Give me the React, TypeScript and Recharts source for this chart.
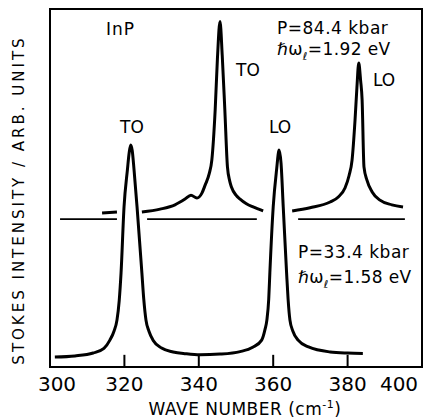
import {
  LineChart,
  Line,
  XAxis,
  YAxis,
  ReferenceLine,
  ReferenceArea,
} from "recharts";

// lower spectrum: P = 33.4 kbar, 1.58 eV
const lowerX = [
  301.3, 306.7, 311.6, 314.5, 316.1, 317.2, 318.0, 318.6, 319.1, 319.9, 320.8,
  321.3, 321.7, 322.1, 322.6, 323.4, 324.7, 325.2, 325.8, 326.6, 327.7, 330.0,
  333.1, 336.5, 340.3, 345.7, 351.1, 354.5, 356.9, 357.8, 358.3, 358.8, 359.1,
  360.0, 360.9, 361.6, 362.1, 362.7, 363.6, 364.0, 364.5, 365.3, 366.7, 369.5,
  375.3, 380.0, 384.1,
];
const lowerY = [
  2.8, 3.1, 3.9, 5.2, 7.5, 10.0, 13.1, 18.5, 26.3, 44.7, 55.0, 60.0, 62.0, 60.5,
  55.0, 44.7, 26.3, 19.0, 13.1, 10.0, 7.5, 5.3, 4.2, 3.7, 3.4, 3.6, 4.3, 5.5,
  7.5, 10.5, 13.1, 19.0, 26.3, 44.7, 55.0, 60.6, 57.0, 44.7, 26.3, 19.0, 13.1,
  10.0, 7.5, 5.6, 4.2, 3.9, 3.8,
];

// upper spectrum: P = 84.4 kbar, 1.92 eV (broken where the lower peaks cross)
const upperAX = [314.0, 318.0];
const upperAY = [43.0, 43.3];
const upperBX = [
  324.7, 329.6, 333.6, 336.3, 337.9, 339.5, 340.8, 341.7, 342.8, 343.5, 344.4,
  345.0, 345.7, 346.3, 347.0, 347.7, 348.3, 348.8, 350.0, 351.1, 352.8, 354.6,
  357.3,
];
const upperBY = [
  43.3, 44.1, 45.3, 46.9, 48.0, 47.2, 48.5, 50.8, 54.0, 57.8, 71.8, 86.0, 96.5,
  87.0, 71.8, 55.9, 52.0, 50.2, 48.0, 46.9, 45.6, 44.7, 43.6,
];
const upperCX = [
  365.1, 369.9, 375.3, 377.5, 379.3, 380.4, 381.2, 382.0, 382.5, 383.0, 383.5,
  383.9, 384.4, 385.2, 386.6, 388.7, 391.9, 394.9,
];
const upperCY = [
  43.6, 44.5, 46.1, 47.5, 50.0, 53.5, 57.8, 69.0, 78.0, 84.9, 80.0, 74.6, 55.9,
  52.2, 48.9, 46.6, 45.3, 44.7,
];

// zero line of the upper spectrum
const zeroLevel = 41.3;
const zeroSegments = [
  [302.7, 318.0],
  [326.1, 355.6],
  [366.7, 395.4],
];

const xTicks = [300, 320, 340, 360, 380, 400];
const innerTicks = [320, 340, 360, 380];

const toPoints = (xs: number[], ys: number[]) =>
  xs.map((x, i) => ({ x, y: ys[i] }));

const FONT = "DejaVu Sans, sans-serif";

const tickShift: Record<number, number> = { 300: 7, 400: -15 };

function XTick(props: any) {
  const { x, y, payload } = props;
  const v = payload.value as number;
  return (
    <text
      x={x + (tickShift[v] || 0)}
      y={y + 16}
      textAnchor="middle"
      fontFamily={FONT}
      fontSize={20}
      fill="#000"
    >
      {v}
    </text>
  );
}

function Omega({ x, y, rest }: { x: number; y: number; rest: string }) {
  return (
    <text
      x={x}
      y={y}
      fontFamily={FONT}
      fontSize={17}
      letterSpacing={0.4}
      fill="#000"
    >
      ℏω
      <tspan fontSize={11} dy={5}>
        ℓ
      </tspan>
      <tspan dy={-5}>{rest}</tspan>
    </text>
  );
}

export default function App() {
  const curve = {
    type: "monotone" as const,
    dataKey: "y",
    stroke: "#000",
    strokeWidth: 3,
    dot: false,
    isAnimationActive: false,
  };
  return (
    <div
      style={{
        position: "absolute",
        left: 0,
        top: 0,
        width: 426,
        height: 419,
        background: "#fff",
      }}
    >
      <LineChart
        width={426}
        height={419}
        margin={{ top: 9, right: 4, left: 50, bottom: 0 }}
      >
        <XAxis
          type="number"
          dataKey="x"
          domain={[300, 400]}
          ticks={xTicks}
          allowDataOverflow
          height={52}
          tickLine={false}
          axisLine={{ stroke: "#000", strokeWidth: 2 }}
          tick={<XTick />}
        />
        <YAxis type="number" domain={[0, 100]} hide />
        <ReferenceArea
          x1={300}
          x2={400}
          y1={0}
          y2={100}
          fill="none"
          stroke="#000"
          strokeWidth={2}
          ifOverflow="visible"
        />
        {innerTicks.map((t) => (
          <ReferenceLine
            key={t}
            segment={[
              { x: t, y: 0 },
              { x: t, y: 3.4 },
            ]}
            stroke="#000"
            strokeWidth={2}
          />
        ))}
        {zeroSegments.map(([a, b], i) => (
          <ReferenceLine
            key={"z" + i}
            segment={[
              { x: a, y: zeroLevel },
              { x: b, y: zeroLevel },
            ]}
            stroke="#000"
            strokeWidth={1.6}
          />
        ))}
        <Line {...curve} data={toPoints(lowerX, lowerY)} />
        <Line {...curve} data={toPoints(upperAX, upperAY)} />
        <Line {...curve} data={toPoints(upperBX, upperBY)} />
        <Line {...curve} data={toPoints(upperCX, upperCY)} />
      </LineChart>
      <svg
        width={426}
        height={419}
        style={{ position: "absolute", left: 0, top: 0, pointerEvents: "none" }}
      >
        <text
          transform="translate(24,200) rotate(-90)"
          textAnchor="middle"
          fontFamily={FONT}
          fontSize={15}
          letterSpacing={3}
          fill="#000"
        >
          STOKES INTENSITY / ARB. UNITS
        </text>
        <text
          x={245}
          y={415}
          textAnchor="middle"
          fontFamily={FONT}
          fontSize={17}
          letterSpacing={0.5}
          fill="#000"
        >
          WAVE NUMBER (cm
          <tspan fontSize={11} dy={-7}>
            -1
          </tspan>
          <tspan dy={7}>)</tspan>
        </text>
        <g fontFamily={FONT} fill="#000">
          <text x={106} y={35} fontSize={17} letterSpacing={1}>
            InP
          </text>
          <text x={132} y={133} fontSize={17} textAnchor="middle">
            TO
          </text>
          <text x={248} y={76} fontSize={17} textAnchor="middle">
            TO
          </text>
          <text x={384} y={86} fontSize={17} textAnchor="middle">
            LO
          </text>
          <text x={280} y={133} fontSize={17} textAnchor="middle">
            LO
          </text>
          <text x={277} y={34} fontSize={17} letterSpacing={0.5}>
            P=84.4 kbar
          </text>
          <text x={298} y={258} fontSize={17} letterSpacing={0.5}>
            P=33.4 kbar
          </text>
        </g>
        <Omega x={277} y={55} rest="=1.92 eV" />
        <Omega x={298} y={283} rest="=1.58 eV" />
      </svg>
    </div>
  );
}
